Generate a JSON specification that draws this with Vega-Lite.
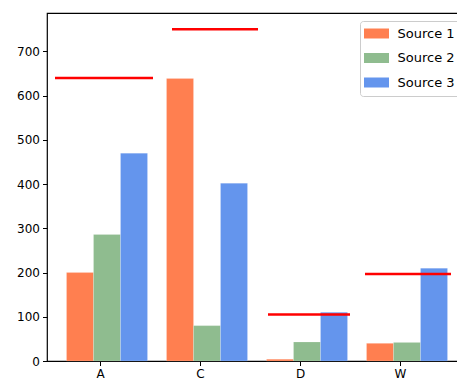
{
  "$schema": "https://vega.github.io/schema/vega-lite/v6.json",
  "autosize": {"type": "none"},
  "padding": {"left": 47, "top": 13, "right": 0, "bottom": 24},
  "width": 413,
  "height": 348,
  "config": {
    "font": "DejaVu Sans",
    "view": {"stroke": "#000", "strokeWidth": 1.2},
    "axis": {"grid": false, "domainColor": "#000", "tickColor": "#000", "labelColor": "#000", "labelFontSize": 12, "tickSize": 4.5, "labelPadding": 3, "title": null}
  },
  "datasets": {
    "bars": [
      {"cat": "A", "source": "Source 1", "value": 200},
      {"cat": "A", "source": "Source 2", "value": 286},
      {"cat": "A", "source": "Source 3", "value": 470},
      {"cat": "C", "source": "Source 1", "value": 639},
      {"cat": "C", "source": "Source 2", "value": 80},
      {"cat": "C", "source": "Source 3", "value": 402},
      {"cat": "D", "source": "Source 1", "value": 4},
      {"cat": "D", "source": "Source 2", "value": 43},
      {"cat": "D", "source": "Source 3", "value": 110},
      {"cat": "W", "source": "Source 1", "value": 40},
      {"cat": "W", "source": "Source 2", "value": 42},
      {"cat": "W", "source": "Source 3", "value": 210}
    ],
    "lines": [
      {"cat": "A", "xmin": 0.55, "xmax": 1.53, "level": 640},
      {"cat": "C", "xmin": 1.72, "xmax": 2.58, "level": 750},
      {"cat": "D", "xmin": 2.68, "xmax": 3.50, "level": 105},
      {"cat": "W", "xmin": 3.65, "xmax": 4.51, "level": 197}
    ]
  },
  "layer": [
    {
      "data": {"name": "bars"},
      "mark": {"type": "bar", "stroke": "#ffffff", "strokeWidth": 0.3, "strokeOpacity": 0.6},
      "encoding": {
        "x": {
          "field": "cat", "type": "nominal", "sort": ["A", "C", "D", "W"],
          "scale": {"paddingInner": 0.19, "paddingOuter": 0.16, "align": 0.61},
          "axis": null
        },
        "xOffset": {"field": "source", "type": "nominal", "scale": {"paddingInner": 0, "paddingOuter": 0}},
        "y": {
          "field": "value", "type": "quantitative",
          "scale": {"domain": [0, 787], "nice": false},
          "axis": {"values": [0, 100, 200, 300, 400, 500, 600, 700], "domain": false}
        },
        "color": {
          "field": "source", "type": "nominal",
          "scale": {"domain": ["Source 1", "Source 2", "Source 3"], "range": ["#FF7F50", "#8FBC8F", "#6495ED"]},
          "legend": {
            "title": null, "orient": "none", "legendX": 313, "legendY": 8,
            "symbolType": "M-2,-0.8H2V0.8H-2Z", "symbolSize": 156, "symbolStrokeWidth": 0,
            "symbolOffset": 4,
            "labelFontSize": 13, "labelOffset": 14.5, "labelColor": "#000",
            "rowPadding": 10.5, "padding": 6,
            "strokeColor": "#cccccc", "cornerRadius": 3, "fillColor": "rgba(255,255,255,0.8)"
          }
        }
      }
    },
    {
      "data": {"name": "lines"},
      "mark": {"type": "rule", "color": "#ff0000", "strokeWidth": 2.5},
      "encoding": {
        "x": {
          "field": "xmin", "type": "quantitative",
          "scale": {"domain": [0.47, 4.60], "nice": false, "zero": false},
          "axis": {"values": [1, 2, 3, 4], "labelExpr": "['', 'A', 'C', 'D', 'W'][datum.value]", "domain": false, "labelFontSize": 12}
        },
        "x2": {"field": "xmax"},
        "y": {"field": "level", "type": "quantitative"}
      }
    }
  ],
  "resolve": {"scale": {"x": "independent"}, "axis": {"x": "independent"}}
}
